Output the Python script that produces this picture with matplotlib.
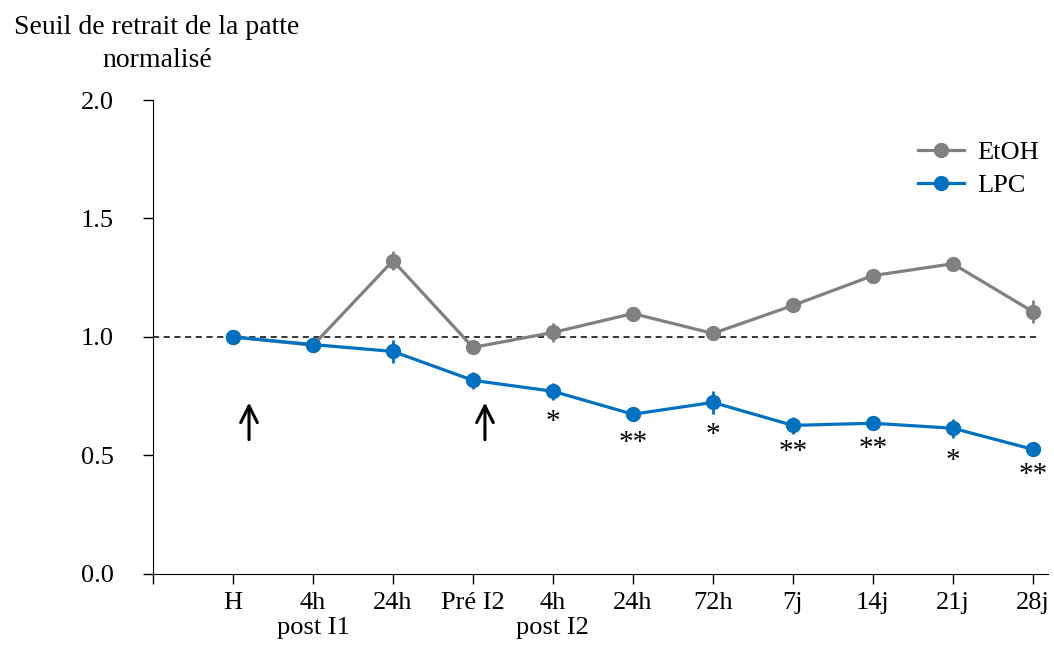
import numpy as np
import matplotlib.pyplot as plt
from matplotlib.lines import Line2D

plt.rcParams['font.family'] = ['Liberation Serif', 'DejaVu Serif']

# temps de mesure
labels = ['H', '4h\npost I1', '24h', 'Pré I2', '4h\npost I2', '24h', '72h', '7j', '14j', '21j', '28j']

etoh = [1.00, 0.965, 1.322, 0.956, 1.019, 1.099, 1.015, 1.133, 1.259, 1.309, 1.107]
etoh_err = [0.01, 0.01, 0.04, 0.01, 0.04, 0.01, 0.01, 0.025, 0.025, 0.01, 0.05]

lpc = [1.00, 0.968, 0.939, 0.817, 0.771, 0.674, 0.724, 0.627, 0.636, 0.615, 0.526]
lpc_err = [0.01, 0.01, 0.05, 0.035, 0.035, 0.03, 0.05, 0.035, 0.025, 0.04, 0.03]

stars = ['', '', '', '', '*', '**', '*', '**', '**', '*', '**']
star_off = [0, 0, 0, 0, -13, -11, -14, -10, -9, -14, -9]

# injections (flèches)
arrow_x = [1.2, 4.15]

grey = '#808080'
blue = '#0070C0'

fig = plt.figure(figsize=(10.54, 6.46), dpi=100)
ax = fig.add_axes([0.1452, 0.1115, 0.8491, 0.7337])

x = np.arange(1, len(labels) + 1)

ax.axhline(1.0, xmax=0.99, color='black', lw=1.1, ls=(0, (4, 3)), zorder=1)

ax.errorbar(x, etoh, yerr=etoh_err, color=grey, lw=2.3, marker='o', ms=10,
            elinewidth=2, capsize=0, zorder=3)
ax.errorbar(x, lpc, yerr=lpc_err, color=blue, lw=2.3, marker='o', ms=10,
            elinewidth=2, capsize=0, zorder=4)

for xi, yi, s, off in zip(x, lpc, stars, star_off):
    if s:
        ax.annotate(s, (xi, yi), xytext=(0, off), textcoords='offset points',
                    ha='center', va='top', fontsize=21)

for ax_x in arrow_x:
    ax.annotate('', xy=(ax_x, 0.735), xytext=(ax_x, 0.555),
                arrowprops=dict(arrowstyle='->', color='black', lw=2.2,
                                mutation_scale=30))

ax.set_xlim(0, 11.19)
ax.set_ylim(0, 2.0)
ax.set_xticks(np.arange(0, 12))
ax.set_xticklabels([''] + labels)
ax.set_yticks([0, 0.5, 1.0, 1.5, 2.0])
ax.set_yticklabels(['0.0', '0.5', '1.0', '1.5', '2.0'])
ax.tick_params(axis='both', direction='out', length=7, width=1, labelsize=19)
ax.tick_params(axis='x', pad=6)
ax.tick_params(axis='y', pad=21)

for side in ['top', 'right']:
    ax.spines[side].set_visible(False)

handles = [Line2D([], [], color=grey, lw=2.3, marker='o', ms=10),
           Line2D([], [], color=blue, lw=2.3, marker='o', ms=10)]
ax.legend(handles, ['EtOH', 'LPC'], loc='upper right', bbox_to_anchor=(1.005, 0.942),
          frameon=False, fontsize=19, handlelength=1.75, handletextpad=0.5,
          labelspacing=0.35, borderaxespad=0.1)

fig.text(0.149, 0.932, 'Seuil de retrait de la patte\nnormalisé', ha='center', va='center',
         fontsize=20, linespacing=1.45)

fig.savefig('out.png', dpi=100)
